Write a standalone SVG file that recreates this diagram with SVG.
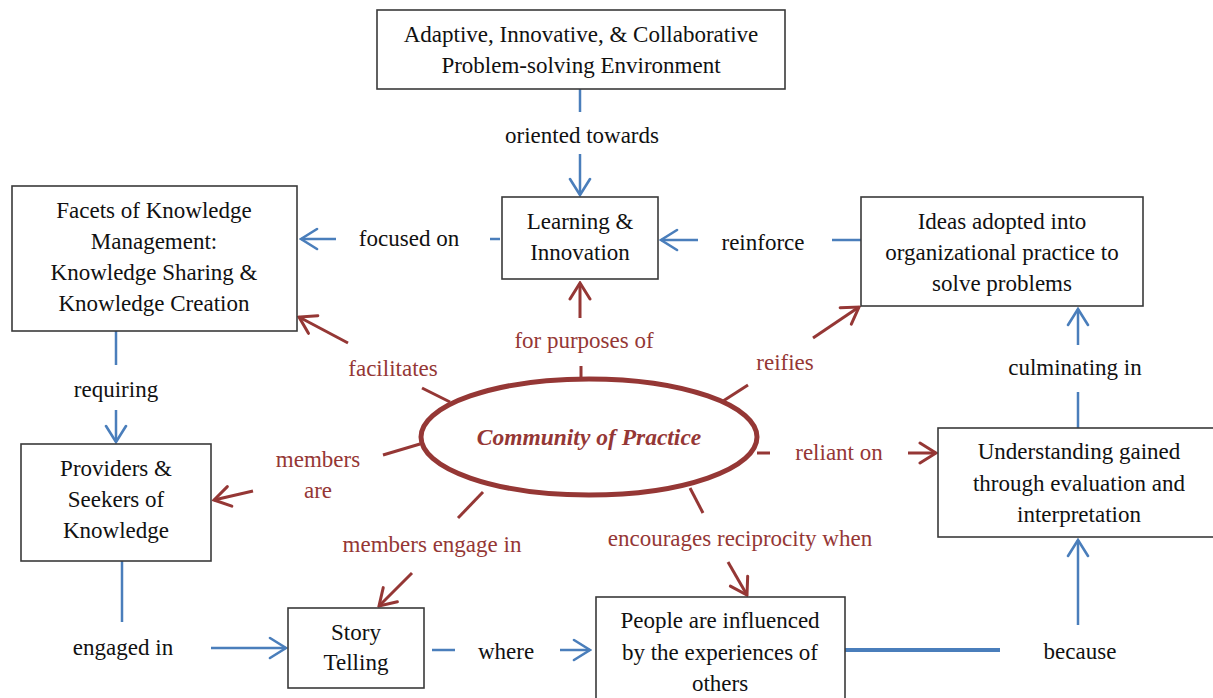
<svg xmlns="http://www.w3.org/2000/svg" width="1213" height="698" viewBox="0 0 1213 698">
<defs>
<marker id="ab" viewBox="-19 -12 21 24" refX="0" refY="0" markerWidth="21" markerHeight="24" markerUnits="userSpaceOnUse" orient="auto">
<path d="M-16,-10 L0,0 L-16,10" fill="none" stroke="#4a7ebb" stroke-width="2.6" stroke-linecap="round"/>
</marker>
<marker id="ar" viewBox="-19 -12 21 24" refX="0" refY="0" markerWidth="21" markerHeight="24" markerUnits="userSpaceOnUse" orient="auto">
<path d="M-16,-10 L0,0 L-16,10" fill="none" stroke="#953735" stroke-width="3" stroke-linecap="round"/>
</marker>
</defs>
<rect width="1213" height="698" fill="#fff"/>
<g id="connectors" fill="none">
<g stroke="#4a7ebb" stroke-width="2.5">
<path d="M580,89 V112"/>
<path d="M580,154 V195" marker-end="url(#ab)"/>
<path d="M500,239 H490"/>
<path d="M336,239 H301" marker-end="url(#ab)"/>
<path d="M861,240 H832"/>
<path d="M698,240 H661" marker-end="url(#ab)"/>
<path d="M116,331 V365"/>
<path d="M116,410 V442" marker-end="url(#ab)"/>
<path d="M122,561 V622"/>
<path d="M211,648 H286" marker-end="url(#ab)"/>
<path d="M432,650 H455"/>
<path d="M560,650 H590" marker-end="url(#ab)"/>
<path d="M845,650 H1000" stroke-width="4"/>
<path d="M1078,625 V540" marker-end="url(#ab)"/>
<path d="M1078,428 V392"/>
<path d="M1078,345 V309" marker-end="url(#ab)"/>
</g>
<g stroke="#953735" stroke-width="3">
<path d="M581,380 V366"/>
<path d="M580,318 V283" marker-end="url(#ar)"/>
<path d="M450,402 L422,388"/>
<path d="M348,343 L299,317" marker-end="url(#ar)"/>
<path d="M720,403 L748,385"/>
<path d="M813,338 L859,307" marker-end="url(#ar)"/>
<path d="M420,444 L383,455"/>
<path d="M253,491 L214,500" marker-end="url(#ar)"/>
<path d="M483,492 L458,518"/>
<path d="M412,573 L379,606" marker-end="url(#ar)"/>
<path d="M690,488 L703,513"/>
<path d="M728,562 L747,595" marker-end="url(#ar)"/>
<path d="M757,453 H770"/>
<path d="M908,453 H936" marker-end="url(#ar)"/>
</g>
</g>
<g font-family="Liberation Serif, DejaVu Serif, serif" font-size="23" text-anchor="middle" fill="#111">
<g id="labels">
<text x="582" y="143">oriented towards</text>
<text x="409" y="246">focused on</text>
<text x="763" y="250">reinforce</text>
<text x="116" y="397">requiring</text>
<text x="123" y="655">engaged in</text>
<text x="506" y="659">where</text>
<text x="1080" y="659">because</text>
<text x="1075" y="375">culminating in</text>
<g fill="#953735">
<text x="584" y="348">for purposes of</text>
<text x="393" y="376">facilitates</text>
<text x="785" y="370">reifies</text>
<text x="318" y="467">members</text>
<text x="318" y="498">are</text>
<text x="432" y="552">members engage in</text>
<text x="740" y="546">encourages reciprocity when</text>
<text x="839" y="460">reliant on</text>
</g>
</g>
<g id="node-environment">
<rect x="377" y="10" width="408" height="79" fill="#fff" stroke="#3a3a3a" stroke-width="1.6"/>
<text x="581" y="42">Adaptive, Innovative, &amp; Collaborative</text>
<text x="581" y="73">Problem-solving Environment</text>
</g>
<g id="node-learning">
<rect x="502" y="197" width="156" height="82" fill="#fff" stroke="#3a3a3a" stroke-width="1.6"/>
<text x="580" y="229">Learning &amp;</text>
<text x="580" y="260">Innovation</text>
</g>
<g id="node-facets">
<rect x="12" y="186" width="285" height="145" fill="#fff" stroke="#3a3a3a" stroke-width="1.6"/>
<text x="154" y="218">Facets of Knowledge</text>
<text x="154" y="249">Management:</text>
<text x="154" y="280">Knowledge Sharing &amp;</text>
<text x="154" y="311">Knowledge Creation</text>
</g>
<g id="node-ideas">
<rect x="861" y="197" width="282" height="109" fill="#fff" stroke="#3a3a3a" stroke-width="1.6"/>
<text x="1002" y="229">Ideas adopted into</text>
<text x="1002" y="260">organizational practice to</text>
<text x="1002" y="291">solve problems</text>
</g>
<g id="node-providers">
<rect x="21" y="444" width="190" height="117" fill="#fff" stroke="#3a3a3a" stroke-width="1.6"/>
<text x="116" y="476">Providers &amp;</text>
<text x="116" y="507">Seekers of</text>
<text x="116" y="538">Knowledge</text>
</g>
<g id="node-understanding">
<rect x="938" y="428" width="276" height="109" fill="#fff" stroke="#3a3a3a" stroke-width="1.6"/>
<text x="1079" y="459">Understanding gained</text>
<text x="1079" y="491">through evaluation and</text>
<text x="1079" y="522">interpretation</text>
</g>
<g id="node-story">
<rect x="288" y="608" width="136" height="80" fill="#fff" stroke="#3a3a3a" stroke-width="1.6"/>
<text x="356" y="640">Story</text>
<text x="356" y="670">Telling</text>
</g>
<g id="node-people">
<rect x="596" y="597" width="249" height="110" fill="#fff" stroke="#3a3a3a" stroke-width="1.6"/>
<text x="720" y="628">People are influenced</text>
<text x="720" y="660">by the experiences of</text>
<text x="720" y="691">others</text>
</g>
<g id="node-community">
<ellipse cx="589" cy="437" rx="168" ry="58" fill="#fff" stroke="#953735" stroke-width="5"/>
<text x="589" y="445" fill="#953735" font-weight="bold" font-style="italic" font-size="23.5">Community of Practice</text>
</g>
</g>
</svg>
